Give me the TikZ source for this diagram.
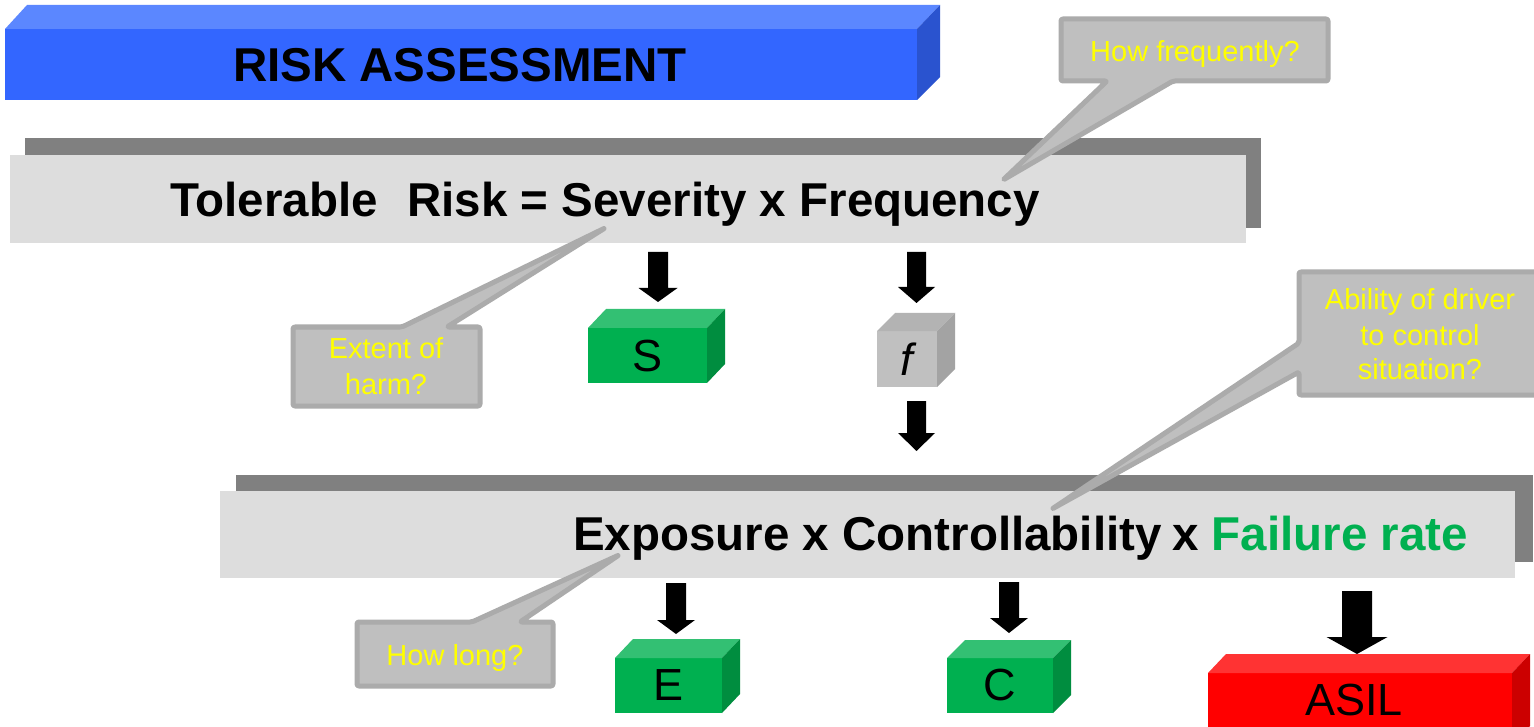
\documentclass[tikz,border=0pt]{standalone}
\usepackage{fontspec}
\setmainfont{Liberation Sans}
\definecolor{titlefront}{HTML}{3366FF}
\definecolor{titletop}{HTML}{5B87FF}
\definecolor{titleside}{HTML}{2A53CF}
\definecolor{barshadow}{HTML}{808080}
\definecolor{barfront}{HTML}{DDDDDD}
\definecolor{calfill}{HTML}{BFBFBF}
\definecolor{calline}{HTML}{ABABAB}
\definecolor{caltext}{HTML}{FFFF00}
\definecolor{gfront}{HTML}{00B050}
\definecolor{gtop}{HTML}{33C073}
\definecolor{gside}{HTML}{008D3F}
\definecolor{rfront}{HTML}{FF0000}
\definecolor{rtop}{HTML}{FF3333}
\definecolor{rside}{HTML}{CC0000}
\definecolor{kfront}{HTML}{C0C0C0}
\definecolor{ktop}{HTML}{B3B3B3}
\definecolor{kside}{HTML}{A3A3A3}
\definecolor{failgreen}{HTML}{00B050}
\newcommand\cubeshape[9]{%
  \fill[#7] (#1,#2) rectangle (#3,#4);
  \fill[#8] (#1,#2) -- (#1+#5,#2-#6) -- (#3+#5,#2-#6) -- (#3,#2) -- cycle;
  \fill[#9] (#3,#2) -- (#3+#5,#2-#6) -- (#3+#5,#4-#6) -- (#3,#4) -- cycle;}
\newcommand\blkarrow[6]{%
  \fill[black] (#1-#5,#2) -- (#1+#5,#2) -- (#1+#5,#3) -- (#1+#6,#3) -- (#1,#4)
    -- (#1-#6,#3) -- (#1-#5,#3) -- cycle;}
\begin{document}
\begin{tikzpicture}[x=1pt,y=-1pt,
  bigtxt/.style={inner sep=0pt, font=\fontsize{47.5}{57}\selectfont\bfseries},
  caltxt/.style={inner sep=0pt, text=caltext, font=\fontsize{29}{35}\selectfont},
  boxtxt/.style={inner sep=0pt, font=\fontsize{45}{54}\selectfont},
  callout/.style={fill=calfill, draw=calline, line width=5pt, rounded corners=2pt, line join=round}]
\useasboundingbox (0,0) rectangle (1534,727);
\fill[white] (0,0) rectangle (1534,727);

% title bar
\fill[titlefront] (5,29) rectangle (917,100);
\fill[titletop] (5,29) -- (27,5) -- (940,5) -- (917,29) -- cycle;
\fill[titleside] (917,29) -- (940,5) -- (940,77) -- (917,100) -- cycle;
\node[bigtxt, anchor=base] (title) at (460,82) {RISK ASSESSMENT};

% bar 1
\fill[barshadow] (25,138) rectangle (1261,228);
\fill[barfront] (10,155) rectangle (1246,243);
\node[bigtxt, anchor=base west] (tol) at (170,217) {Tolerable};
\node[bigtxt, anchor=base east] (risk) at (1040,217) {Risk = Severity x Frequency};

% bar 2
\fill[barshadow] (236,475) rectangle (1533,562);
\fill[barfront] (220,491) rectangle (1515,578);
\node[bigtxt, anchor=base west] (expo) at (573,550) {Exposure x Controllability};
\node[bigtxt, anchor=base west] (times) at (1172,550) {x};
\node[bigtxt, anchor=base east, text=failgreen] (fail) at (1468,550) {Failure rate};

% arrows
\blkarrow{658}{252}{288}{302}{10}{19.5}
\blkarrow{916.5}{252}{287}{303}{9.5}{18.5}
\blkarrow{916.5}{401}{433}{451}{9.5}{18.5}
\blkarrow{676}{583}{620}{634}{10}{19}
\blkarrow{1009}{582}{618}{633}{10}{19}
\blkarrow{1357}{591}{637}{654}{15}{30.5}

% boxes
\cubeshape{588}{328}{707}{383}{18}{19}{gfront}{gtop}{gside}
\node[boxtxt] (S) at (647.5,356) {S};
\cubeshape{877}{331}{937}{387}{18}{18}{kfront}{ktop}{kside}
\node[boxtxt] (f) at (907,359) {\itshape f};
\cubeshape{615}{658}{722}{713}{18}{19}{gfront}{gtop}{gside}
\node[boxtxt] (E) at (668.5,685.5) {E};
\cubeshape{947}{658}{1053}{713}{18}{18}{gfront}{gtop}{gside}
\node[boxtxt] (C) at (1000,685.5) {C};
\cubeshape{1208}{673}{1512}{745}{18}{19}{rfront}{rtop}{rside}
\node[boxtxt] (asil) at (1354,700) {ASIL};

% callouts
\draw[callout] (1061,19) -- (1328,19) -- (1328,81) -- (1173,81) -- (1003,180)
  -- (1107,81) -- (1061,81) -- cycle;
\node[caltxt, anchor=base] (howfreq) at (1195,62) {How frequently?};

\draw[callout] (293,327) -- (402,327) -- (605,228) -- (447,327) -- (480,327)
  -- (480,406) -- (293,406) -- cycle;
\node[caltxt, anchor=base] (ext1) at (386,359) {Extent of};
\node[caltxt, anchor=base] (ext2) at (386,394) {harm?};

\draw[callout] (1299,272) -- (1545,272) -- (1545,395) -- (1299,395) -- (1299,372)
  -- (1052,509) -- (1299,343) -- cycle;
\node[caltxt, anchor=base] (abl1) at (1420,309) {Ability of driver};
\node[caltxt, anchor=base] (abl2) at (1420,345) {to control};
\node[caltxt, anchor=base] (abl3) at (1420,379) {situation?};

\draw[callout] (357,622) -- (472,622) -- (619,555) -- (520,622) -- (553,622)
  -- (553,686) -- (357,686) -- cycle;
\node[caltxt, anchor=base] (howlong) at (455,665) {How long?};
\end{tikzpicture}
\end{document}
